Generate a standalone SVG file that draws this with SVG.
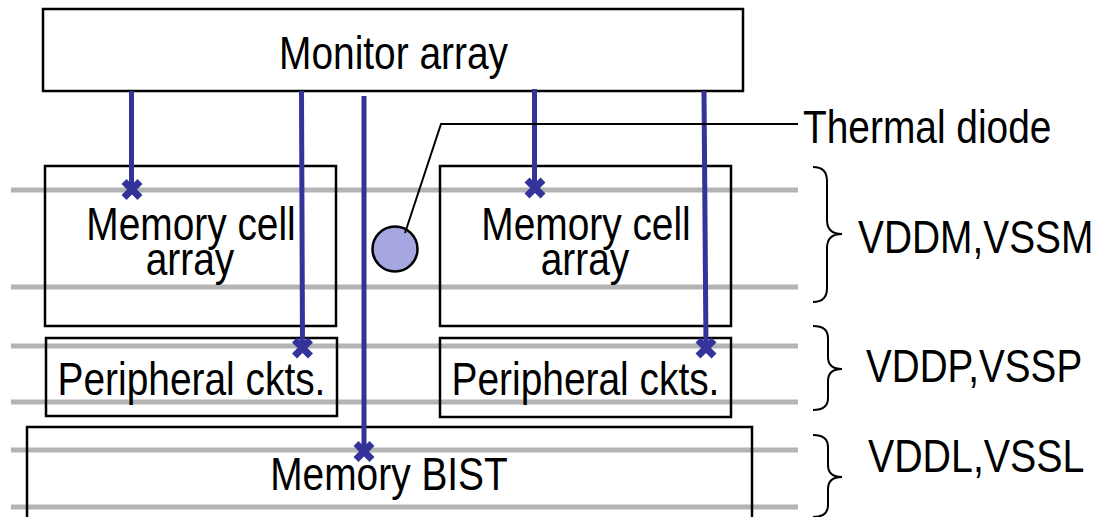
<svg xmlns="http://www.w3.org/2000/svg" width="1106" height="517" viewBox="0 0 1106 517">
  <style>
    .rail { stroke: #b4b4b4; stroke-width: 5; fill: none; }
    .box { fill: none; stroke: #000; stroke-width: 2.5; }
    .wire { stroke: #333399; stroke-width: 5; fill: none; }
    .xm { stroke: #333399; stroke-width: 7; fill: none; }
    .lead { stroke: #000; stroke-width: 2; fill: none; }
    .brace { stroke: #000; stroke-width: 2; fill: none; }
    text { font-family: "Liberation Sans", Arial, sans-serif; font-size: 46px; fill: #000; }
    .c { text-anchor: middle; }
  </style>
  <defs>
    <path id="xmark" class="xm" d="M-8,-8 L8,8 M8,-8 L-8,8"/>
  </defs>

  <g id="rails">
    <line class="rail" x1="11" y1="190" x2="798" y2="190"/>
    <line class="rail" x1="11" y1="287" x2="798" y2="287"/>
    <line class="rail" x1="11" y1="346" x2="798" y2="346"/>
    <line class="rail" x1="11" y1="402" x2="798" y2="402"/>
    <line class="rail" x1="11" y1="450" x2="798" y2="450"/>
    <line class="rail" x1="11" y1="507" x2="798" y2="507"/>
  </g>

  <g id="monitor-array">
    <rect class="box" x="43" y="9" width="700" height="82" style="fill:#fff"/>
    <text class="c" transform="translate(393.5,69) scale(0.845,1)">Monitor array</text>
  </g>

  <g id="memory-cell-array-left">
    <rect class="box" x="45" y="166" width="291" height="160"/>
    <text class="c" transform="translate(191,240) scale(0.845,1)">Memory cell</text>
    <text class="c" transform="translate(190,275) scale(0.845,1)">array</text>
  </g>

  <g id="memory-cell-array-right">
    <rect class="box" x="440" y="166" width="291" height="160"/>
    <text class="c" transform="translate(586,240) scale(0.845,1)">Memory cell</text>
    <text class="c" transform="translate(585,275) scale(0.845,1)">array</text>
  </g>

  <g id="peripheral-left">
    <rect class="box" x="46" y="338" width="291" height="78"/>
    <text class="c" transform="translate(191.5,395) scale(0.845,1)">Peripheral ckts.</text>
  </g>

  <g id="peripheral-right">
    <rect class="box" x="440" y="338" width="291" height="79"/>
    <text class="c" transform="translate(585.5,395) scale(0.845,1)">Peripheral ckts.</text>
  </g>

  <g id="memory-bist">
    <rect class="box" x="27" y="427" width="725" height="100"/>
    <text class="c" transform="translate(389,490) scale(0.845,1)">Memory BIST</text>
  </g>

  <g id="thermal-diode">
    <circle cx="395" cy="249" r="22.5" fill="#a6a6e0" stroke="#000" stroke-width="2.5"/>
  </g>

  <g id="connectors">
    <line class="wire" x1="131.5" y1="91" x2="131.5" y2="189"/>
    <line class="wire" x1="301.5" y1="91" x2="302.5" y2="348"/>
    <line class="wire" x1="364" y1="96" x2="364" y2="451"/>
    <line class="wire" x1="534.5" y1="89" x2="534.5" y2="188"/>
    <line class="wire" x1="704" y1="91" x2="706" y2="348"/>
    <use href="#xmark" x="132" y="189.5"/>
    <use href="#xmark" x="302.5" y="348"/>
    <use href="#xmark" x="364" y="451.5"/>
    <use href="#xmark" x="535" y="188"/>
    <use href="#xmark" x="706" y="348"/>
    <polyline class="lead" points="405,233 441,124 798,124"/>
  </g>

  <g id="labels">
    <text transform="translate(803,143) scale(0.845,1)">Thermal diode</text>
    <path class="brace" d="M813,167 Q827,167 827,181 L827,220 Q827,234 842,234 Q827,234 827,248 L827,288 Q827,302 813,302"/>
    <text transform="translate(858,253) scale(0.845,1)">VDDM,VSSM</text>
    <path class="brace" d="M813,326 Q828,326 828,338 L828,357 Q828,369 842,369 Q828,369 828,381 L828,398 Q828,410 813,410"/>
    <text transform="translate(866,382) scale(0.84,1)">VDDP,VSSP</text>
    <path class="brace" d="M813,435 Q828,435 828,447 L828,465 Q828,477 842,477 Q828,477 828,489 L828,505 Q828,517 813,517"/>
    <text transform="translate(868,472) scale(0.855,1)">VDDL,VSSL</text>
  </g>
</svg>
